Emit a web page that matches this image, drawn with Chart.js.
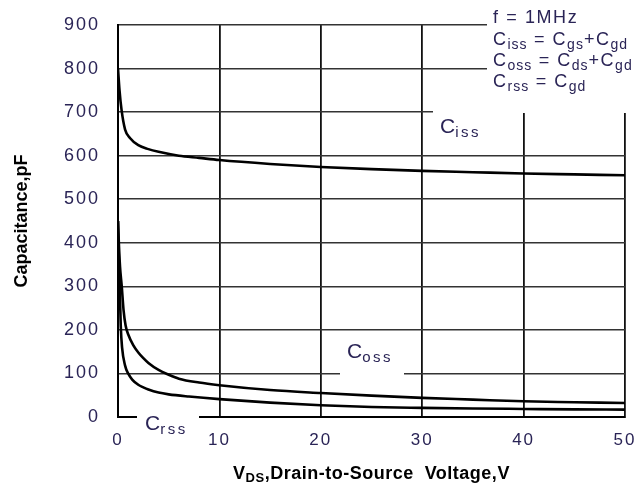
<!DOCTYPE html>
<html>
<head>
<meta charset="utf-8">
<script src="https://cdn.jsdelivr.net/npm/chart.js@4.4.1/dist/chart.umd.min.js"></script>
<style>
  html, body { margin: 0; padding: 0; background: #fff; }
  #wrap { width: 637px; height: 490px; }
</style>
</head>
<body>
<div id="wrap"><canvas id="cap"></canvas></div>
<script>
// VDS (V) sample points and capacitances (pF)
const vdsIss = [0, 0.15, 0.35, 0.7, 1.2, 2, 3, 4, 6, 8, 10, 15, 20, 25, 30, 35, 40, 45, 50];
const ciss   = [800, 750, 705, 660, 640, 624, 615, 609, 600, 595, 590, 581, 574, 569, 565, 562, 559, 557, 555];

const vdsOss = [0, 0.1, 0.2, 0.37, 0.55, 0.75, 1, 1.5, 2, 2.5, 3, 4, 5, 6, 8, 10, 15, 20, 25, 30, 35, 40, 45, 50];
const coss   = [450, 390, 345, 300, 245, 210, 190, 165, 148, 135, 124, 108, 97, 88, 79, 73, 62, 55, 49, 44, 40, 36, 34, 32];

const vdsRss = [0, 0.08, 0.17, 0.27, 0.4, 0.7, 1, 1.4, 2, 2.5, 3, 4, 5, 7, 10, 15, 20, 25, 30, 35, 40, 45, 50];
const crss   = [450, 370, 300, 210, 160, 118, 100, 86, 74, 68, 63, 56, 52, 47, 41, 33, 27, 23, 21, 19.5, 18.5, 17.5, 17];

const xTicks = [0, 10, 20, 30, 40, 50];
const yTicks = [0, 100, 200, 300, 400, 500, 600, 700, 800, 900];

const FONT = 'Arial, "Liberation Sans", sans-serif';
const INK = '#2a2456';

function toPoints(xs, ys) {
  return xs.map((x, i) => ({ x, y: ys[i] }));
}

function curve(label, xs, ys) {
  return {
    label,
    data: toPoints(xs, ys),
    borderColor: '#000',
    borderWidth: 2.6,
    pointRadius: 0,
    fill: false,
    cubicInterpolationMode: 'monotone',
  };
}

// draw text runs, some of them as subscripts: [text, isSub]
function drawRuns(ctx, runs, x, y, size, subSize, spacing, subSpacing) {
  let cx = x;
  runs.forEach(([txt, sub]) => {
    ctx.font = (sub ? subSize : size) + 'px ' + FONT;
    ctx.letterSpacing = (sub ? subSpacing : spacing) + 'px';
    ctx.fillText(txt, cx, sub ? y + size * 0.2 : y);
    cx += ctx.measureText(txt).width;
  });
  ctx.letterSpacing = '0px';
}

// tick labels on the datasheet are a little letter-spaced
const spacing = {
  id: 'spacing',
  beforeDraw(chart) { chart.ctx.letterSpacing = '2px'; },
};

// white masks behind the labels, as on the datasheet
const masks = {
  id: 'masks',
  beforeDatasetsDraw(chart) {
    const ctx = chart.ctx;
    ctx.save();
    ctx.fillStyle = '#fff';
    ctx.fillRect(487, 0, 150, 113);   // legend block
    ctx.fillRect(433, 100, 68, 45);   // Ciss
    ctx.fillRect(340, 336, 64, 42);   // Coss
    ctx.fillRect(137, 409, 62, 28);   // Crss
    ctx.restore();
  }
};

const annotations = {
  id: 'annotations',
  afterDraw(chart) {
    const ctx = chart.ctx;
    const { chartArea } = chart;
    ctx.save();
    ctx.fillStyle = INK;
    ctx.textBaseline = 'alphabetic';
    ctx.textAlign = 'left';

    // legend text
    drawRuns(ctx, [['f = 1MHz', false]], 493, 23, 18, 14, 1.6, 1);
    drawRuns(ctx, [['C', false], ['iss', true], [' = C', false], ['gs', true], ['+C', false], ['gd', true]], 493, 45, 18, 14, 1.5, 1);
    drawRuns(ctx, [['C', false], ['oss', true], [' = C', false], ['ds', true], ['+C', false], ['gd', true]], 493, 66, 18, 14, 1.5, 1);
    drawRuns(ctx, [['C', false], ['rss', true], [' = C', false], ['gd', true]], 493, 87, 18, 14, 1.5, 1);

    // curve labels
    drawRuns(ctx, [['C', false], ['iss', true]], 440, 133, 21, 15, 0, 2.5);
    drawRuns(ctx, [['C', false], ['oss', true]], 347, 358, 21, 15, 0, 2.5);
    drawRuns(ctx, [['C', false], ['rss', true]], 145, 430, 21, 15, 0, 2.5);

    // axis titles
    ctx.fillStyle = '#000';
    ctx.letterSpacing = '0.5px';
    const midX = (chartArea.left + chartArea.right) / 2;
    const runsX = [['V', false, 18], ['DS', true, 13], [',Drain-to-Source  Voltage,V', false, 18]];
    let total = 0;
    runsX.forEach(([t, s, fs]) => { ctx.font = 'bold ' + fs + 'px ' + FONT; total += ctx.measureText(t).width; });
    let cx = midX - total / 2;
    runsX.forEach(([t, s, fs]) => {
      ctx.font = 'bold ' + fs + 'px ' + FONT;
      ctx.fillText(t, cx, s ? 482 : 479);
      cx += ctx.measureText(t).width;
    });

    ctx.letterSpacing = '0px';
    ctx.translate(27, (chartArea.top + chartArea.bottom) / 2);
    ctx.rotate(-Math.PI / 2);
    ctx.textAlign = 'center';
    ctx.font = 'bold 18px ' + FONT;
    ctx.fillText('Capacitance,pF', 0, 0);
    ctx.restore();
  }
};

new Chart(document.getElementById('cap'), {
  type: 'line',
  data: {
    datasets: [
      curve('Ciss', vdsIss, ciss),
      curve('Coss', vdsOss, coss),
      curve('Crss', vdsRss, crss),
    ]
  },
  options: {
    responsive: true,
    maintainAspectRatio: false,
    animation: false,
    layout: { padding: { top: 25, right: 12, left: 0, bottom: 0 } },
    plugins: { legend: { display: false }, tooltip: { enabled: false } },
    scales: {
      x: {
        type: 'linear',
        min: 0, max: 50,
        afterBuildTicks: s => { s.ticks = xTicks.map(v => ({ value: v })); },
        afterFit: s => { s.height = 73; s.paddingLeft = 0; s.paddingRight = 0; },
        grid: { color: '#111', lineWidth: 1.8, drawTicks: false },
        border: { color: '#000', width: 2 },
        ticks: { color: INK, font: { family: FONT, size: 17 }, padding: 13, maxRotation: 0 },
      },
      y: {
        min: 0, max: 900,
        afterBuildTicks: s => { s.ticks = yTicks.map(v => ({ value: v })); },
        afterFit: s => { s.width = 118; s.paddingTop = 0; s.paddingBottom = 0; },
        grid: { color: '#333', lineWidth: 1.5, drawTicks: false },
        border: { color: '#000', width: 2 },
        ticks: { color: INK, font: { family: FONT, size: 18 }, padding: 18 },
      }
    }
  },
  plugins: [spacing, masks, annotations]
});
</script>
</body>
</html>
